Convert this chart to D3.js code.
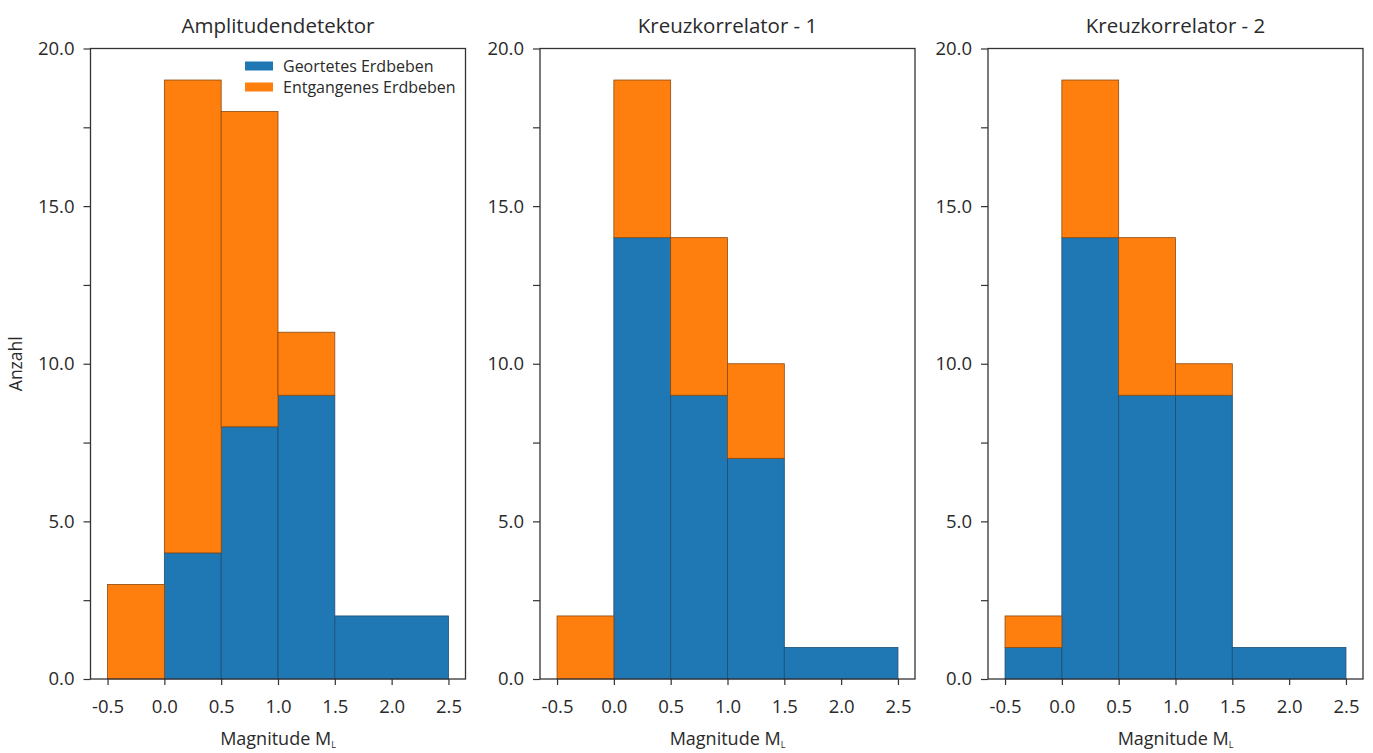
<!DOCTYPE html>
<html>
<head>
<meta charset="utf-8">
<script src="https://cdn.jsdelivr.net/npm/d3@7"></script>
<style>
  body { margin: 0; background: #fff; }
  svg { display: block; }
  text { font-family: "Open Sans", "DejaVu Sans", sans-serif; fill: #2a2a2a; }
</style>
</head>
<body>
<svg id="chart" width="1373" height="753"></svg>
<script>
// ---- data ----
const binStarts = [-0.5, 0.0, 0.5, 1.0, 1.5];
const binEnds   = [ 0.0, 0.5, 1.0, 1.5, 2.5];
const panelTitles = ["Amplitudendetektor", "Kreuzkorrelator - 1", "Kreuzkorrelator - 2"];
const seriesNames = ["Geortetes Erdbeben", "Entgangenes Erdbeben"];
// located (blue) and missed (orange) counts per bin
const located1 = [0, 4, 8, 9, 2];
const missed1  = [3, 15, 10, 2, 0];
const located2 = [0, 14, 9, 7, 1];
const missed2  = [2, 5, 5, 3, 0];
const located3 = [1, 14, 9, 9, 1];
const missed3  = [1, 5, 5, 1, 0];
const yTicks = [0, 2.5, 5, 7.5, 10, 12.5, 15, 17.5, 20];
const xTicks = [-0.5, 0.0, 0.5, 1.0, 1.5, 2.0, 2.5];

const panels = [
  { title: panelTitles[0], located: located1, missed: missed1, legend: true },
  { title: panelTitles[1], located: located2, missed: missed2, legend: false },
  { title: panelTitles[2], located: located3, missed: missed3, legend: false }
];
const colors = ["#1f77b4", "#ff7f0e"];

// ---- layout ----
const lefts = [90.5, 540, 988];
const W = 375, topY = 48.5, H = 630.5;
const fs = 18.5;

const svg = d3.select("#chart");

panels.forEach((p, i) => {
  const g = svg.append("g").attr("transform", `translate(${lefts[i]},${topY})`);
  const x = d3.scaleLinear().domain([-0.65, 2.65]).range([0, W]);
  const y = d3.scaleLinear().domain([0, 20]).range([H, 0]);

  const rows = binStarts.map((s, k) => ({ s, e: binEnds[k], a: p.located[k], b: p.missed[k] }));

  // located (bottom)
  g.selectAll("rect.loc").data(rows.filter(d => d.a > 0)).join("rect")
    .attr("class", "loc")
    .attr("x", d => x(d.s)).attr("width", d => x(d.e) - x(d.s))
    .attr("y", d => y(d.a)).attr("height", d => y(0) - y(d.a))
    .attr("fill", colors[0]).attr("stroke", "#1d4f73").attr("stroke-width", 0.8);
  // missed (stacked on top)
  g.selectAll("rect.mis").data(rows.filter(d => d.b > 0)).join("rect")
    .attr("class", "mis")
    .attr("x", d => x(d.s)).attr("width", d => x(d.e) - x(d.s))
    .attr("y", d => y(d.a + d.b)).attr("height", d => y(d.a) - y(d.a + d.b))
    .attr("fill", colors[1]).attr("stroke", "#8a4a10").attr("stroke-width", 0.8);

  // frame
  g.append("rect").attr("x", 0).attr("y", 0).attr("width", W).attr("height", H)
    .attr("fill", "none").attr("stroke", "#333").attr("stroke-width", 1.3);

  // y axis
  const ya = g.append("g").call(
    d3.axisLeft(y).tickValues(yTicks).tickSize(7).tickPadding(9)
      .tickFormat(d => (d % 5 === 0 ? d.toFixed(1) : ""))
  );
  ya.select(".domain").remove();
  ya.selectAll("line").attr("stroke", "#333").attr("stroke-width", 1.2);
  ya.selectAll("text").style("font-size", fs + "px").attr("fill", "#2a2a2a");

  // x axis
  const xa = g.append("g").attr("transform", `translate(0,${H})`).call(
    d3.axisBottom(x).tickValues(xTicks).tickSize(6).tickPadding(15)
      .tickFormat(d => d.toFixed(1))
  );
  xa.select(".domain").remove();
  xa.selectAll("line").attr("stroke", "#333").attr("stroke-width", 1.2);
  xa.selectAll("text").style("font-size", fs + "px").attr("fill", "#2a2a2a");

  // title
  g.append("text").attr("x", W / 2).attr("y", 33 - topY).attr("text-anchor", "middle")
    .style("font-size", "20.5px").text(p.title);

  // x label
  const xl = g.append("text").attr("x", W / 2).attr("y", 745 - topY).attr("text-anchor", "middle")
    .style("font-size", "18px");
  xl.append("tspan").text("Magnitude M");
  xl.append("tspan").attr("dy", 3).style("font-size", "9px").text("L");

  // y label (only first panel)
  if (i === 0) {
    svg.append("text").attr("transform", `translate(22,${topY + H / 2}) rotate(-90)`)
      .attr("text-anchor", "middle").style("font-size", "17.5px").text("Anzahl");
  }

  // legend
  if (p.legend) {
    const lg = g.append("g").attr("transform", `translate(${245 - lefts[i]},${66 - topY})`);
    seriesNames.forEach((n, k) => {
      lg.append("rect").attr("x", 0).attr("y", k * 21 - 4.5).attr("width", 28).attr("height", 9)
        .attr("fill", colors[k]);
      lg.append("text").attr("x", 38).attr("y", k * 21).attr("dy", "0.35em")
        .style("font-size", "16px").text(n);
    });
  }
});
</script>
</body>
</html>
